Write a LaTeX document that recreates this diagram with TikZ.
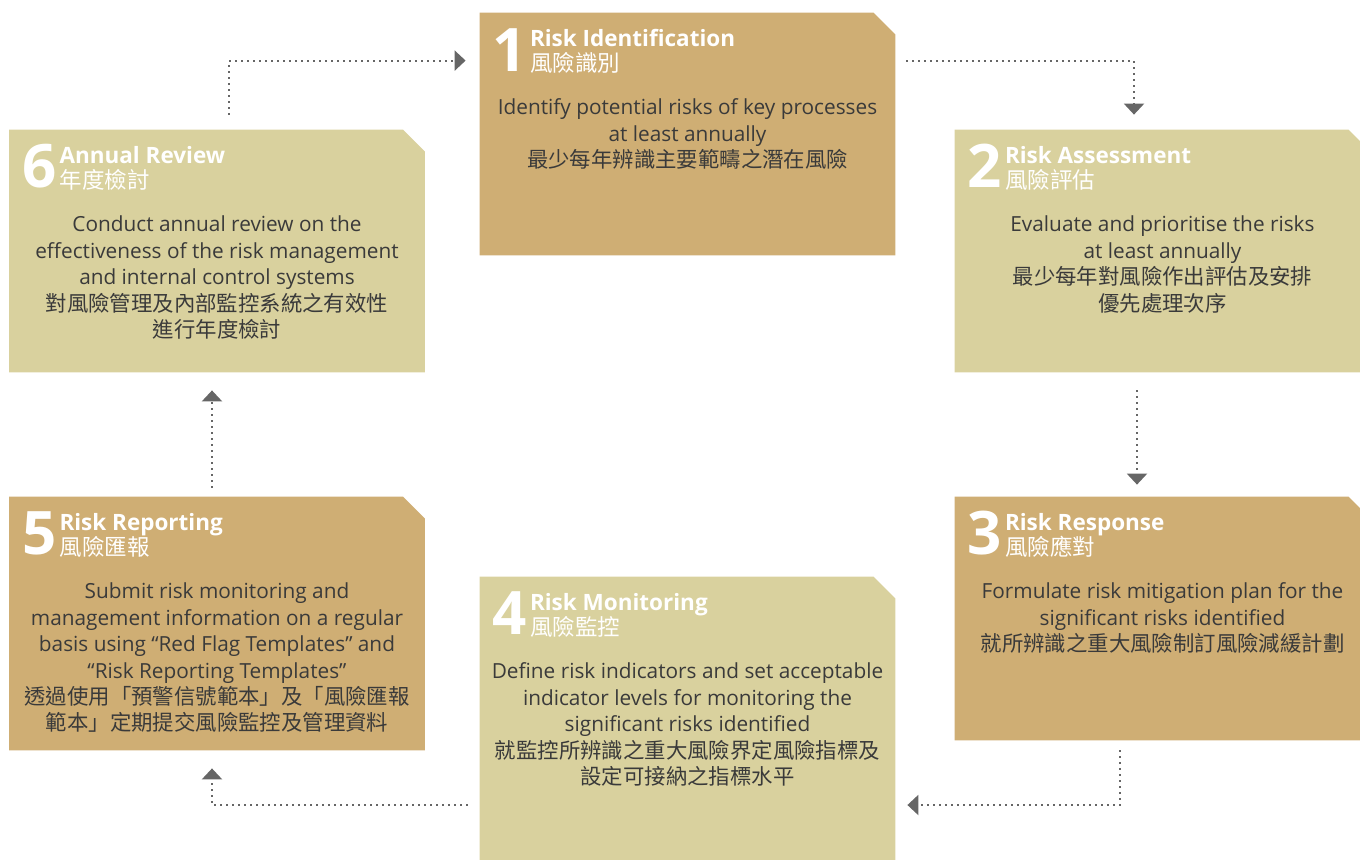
\documentclass[tikz,border=0pt]{standalone}
\usepackage{fontspec}
\setmainfont{Open Sans}
\newfontfamily\cjk{Noto Sans CJK TC}
\usepackage{tikz}
\usetikzlibrary{arrows.meta, positioning}

\definecolor{tan}{HTML}{CFAE74}
\definecolor{sage}{HTML}{D9D19E}
\definecolor{ink}{HTML}{3A3A3A}
\definecolor{flowgray}{HTML}{666666}

% fill a stage with its top right corner cut off
\newcommand\stagefill[2]{\fill[#1] (#2.south west) |- ([xshift=-11pt]#2.north east) -- ([yshift=-11pt]#2.north east) |- cycle;}
% chinese lines of a description
\newcommand\zh[1]{{\cjk\fontsize{10.7}{13.2}\selectfont #1}}

\begin{document}
\begin{tikzpicture}[
    x=0.5pt, y=-0.5pt,
    stage/.style={rectangle, inner sep=0pt, minimum width=207.5pt, minimum height=121pt},
    headline/.style={anchor=north west, inner sep=0pt, align=left, text=white, font=\fontsize{11.25}{12.5}\selectfont},
    num/.style={anchor=south east, inner sep=0pt, text=white, font=\bfseries\fontsize{30}{30}\selectfont},
    body/.style={anchor=north, inner sep=0pt, align=center, text=ink, font=\fontsize{10.4}{13.2}\selectfont},
    flow/.style={flowgray, line width=1.1pt, dash pattern=on 1pt off 2pt, -{Triangle[length=5.5pt, width=10pt]}}
]
\useasboundingbox (0,0) rectangle (1360,859);
\clip (0,0) rectangle (1360,859);

% Stages of the cycle
\node[stage] (ident)   at (687.5,134)  {};
\node[stage] (assess)  at (1162.5,251) {};
\node[stage, minimum height=121.5pt] (respond) at (1162.5,618.5) {};
\node[stage, minimum height=150pt]   (monitor) at (687.5,727) {};
\node[stage, minimum height=126.5pt] (report)  at (217,623.5) {};
\node[stage] (review)  at (217,251)    {};

\stagefill{tan}{ident}
\stagefill{sage}{assess}
\stagefill{tan}{respond}
\stagefill{sage}{monitor}
\stagefill{tan}{report}
\stagefill{sage}{review}

% Headings
\node[headline] (identhead)   at ([shift={(50,16)}]ident.north west)   {\bfseries Risk Identification\\{\cjk 風險識別}};
\node[headline] (assesshead)  at ([shift={(50,16)}]assess.north west)  {\bfseries Risk Assessment\\{\cjk 風險評估}};
\node[headline] (respondhead) at ([shift={(50,16)}]respond.north west) {\bfseries Risk Response\\{\cjk 風險應對}};
\node[headline] (monitorhead) at ([shift={(50,16)}]monitor.north west) {\bfseries Risk Monitoring\\{\cjk 風險監控}};
\node[headline] (reporthead)  at ([shift={(50,16)}]report.north west)  {\bfseries Risk Reporting\\{\cjk 風險匯報}};
\node[headline] (reviewhead)  at ([shift={(50,16)}]review.north west)  {\bfseries Annual Review\\{\cjk 年度檢討}};

% Step numbers
\node[num] (identnum)   at ([shift={(-2,-2)}]identhead.south west)   {1};
\node[num] (assessnum)  at ([shift={(-2,-2)}]assesshead.south west)  {2};
\node[num] (respondnum) at ([shift={(-2,-2)}]respondhead.south west) {3};
\node[num] (monitornum) at ([shift={(-2,-2)}]monitorhead.south west) {4};
\node[num] (reportnum)  at ([shift={(-2,-2)}]reporthead.south west)  {5};
\node[num] (reviewnum)  at ([shift={(-2,-2)}]reviewhead.south west)  {6};

% Descriptions
\node[body] (identtext) at ([shift={(0,86)}]ident.north)
  {Identify potential risks of key processes\\at least annually\\\zh{最少每年辨識主要範疇之潛在風險}};
\node[body] (assesstext) at ([shift={(0,86)}]assess.north)
  {Evaluate and prioritise the risks\\at least annually\\\zh{最少每年對風險作出評估及安排}\\\zh{優先處理次序}};
\node[body] (respondtext) at ([shift={(0,86)}]respond.north)
  {Formulate risk mitigation plan for the\\significant risks identified\\\zh{就所辨識之重大風險制訂風險減緩計劃}};
\node[body] (monitortext) at ([shift={(0,86)}]monitor.north)
  {Define risk indicators and set acceptable\\indicator levels for monitoring the\\significant risks identified\\\zh{就監控所辨識之重大風險界定風險指標及}\\\zh{設定可接納之指標水平}};
\node[body] (reporttext) at ([shift={(0,86)}]report.north)
  {Submit risk monitoring and\\management information on a regular\\basis using “Red Flag Templates” and\\“Risk Reporting Templates”\\\zh{透過使用「預警信號範本」及「風險匯報}\\\zh{範本」定期提交風險監控及管理資料}};
\node[body] (reviewtext) at ([shift={(0,86)}]review.north)
  {Conduct annual review on the\\effectiveness of the risk management\\and internal control systems\\\zh{對風險管理及內部監控系統之有效性}\\\zh{進行年度檢討}};

% Dotted flow between stages
\draw[flow] ([shift={(12,-15)}]review.north) |- ([shift={(-14,48)}]ident.north west);
\draw[flow] ([shift={(11,-73)}]ident.east) -| ([shift={(-28.5,-15)}]assess.north);
\draw[flow] ([shift={(-25.5,18)}]assess.south) -- ([shift={(-25.5,-12)}]respond.north);
\draw[flow] ([shift={(-42.5,10)}]respond.south) |- ([shift={(12,78)}]monitor.east);
\draw[flow] ([shift={(-12,78)}]monitor.west) -| ([shift={(-5,18)}]report.south);
\draw[flow] ([shift={(-5,-9)}]report.north) -- ([shift={(-5,18)}]review.south);
\end{tikzpicture}
\end{document}
